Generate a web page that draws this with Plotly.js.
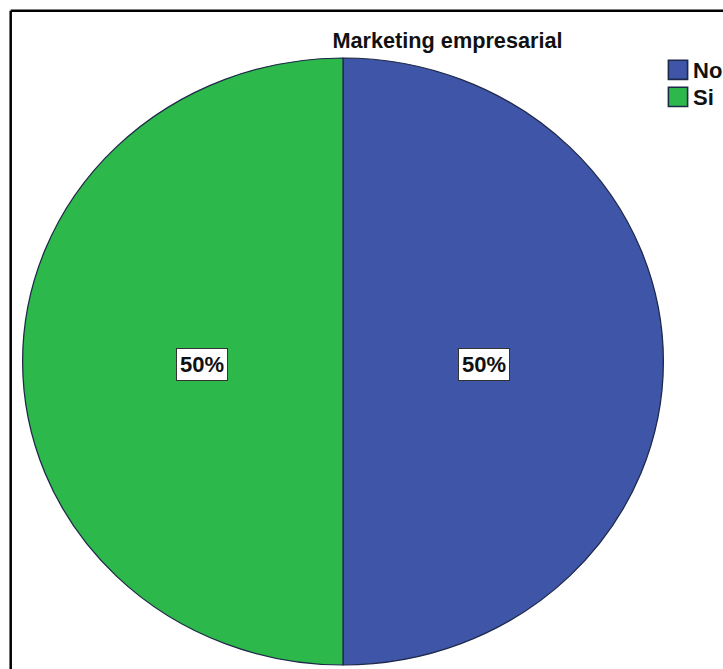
<!DOCTYPE html>
<html>
<head>
<meta charset="utf-8">
<script src="https://cdn.plot.ly/plotly-3.0.1.min.js"></script>
<style>
html,body{margin:0;padding:0;background:#fff;overflow:hidden;}
#chart{width:723px;height:669px;}
</style>
</head>
<body>
<div id="chart"></div>
<script>
// ---- data ----
const categories = ["No", "Si"];
const values = [50, 50];
const colors = ["#3E55A8", "#2DB84B"];
const chartTitle = "Marketing empresarial";

// ---- layout constants ----
const W = 723, H = 669;
const cx = 343, cy = 361.5, ry = 303.5, rx = 320.5;
const font = "Arial, 'Liberation Sans', sans-serif";

const total = values.reduce((a, b) => a + b, 0);

const trace = {
  type: "pie",
  labels: categories,
  values: values,
  sort: false,
  direction: "clockwise",
  rotation: 0,
  textinfo: "none",
  hoverinfo: "label+percent",
  marker: { colors: colors, line: { color: "#1e2848", width: 1.2 } },
  domain: { x: [(cx - ry) / W, (cx + ry) / W], y: [1 - (cy + ry) / H, 1 - (cy - ry) / H] }
};

// percentage label boxes placed at slice mid-angles
const annotations = [];
let cum = 0;
values.forEach((v, i) => {
  const mid = (cum + v / 2) / total * 2 * Math.PI; // clockwise from 12 o'clock
  cum += v;
  const px = cx + 0.44 * rx * Math.sin(mid);
  const py = cy + 3 - 0.44 * ry * Math.cos(mid);
  annotations.push({
    xref: "paper", yref: "paper",
    x: px / W, y: 1 - py / H,
    xanchor: "center", yanchor: "middle",
    showarrow: false,
    text: Math.round(v / total * 100) + "%",
    font: { family: font, size: 22, color: "#111", weight: "bold" },
    bgcolor: "#ffffff",
    bordercolor: "#333333",
    borderwidth: 1,
    borderpad: 3
  });
});

const layout = {
  width: W, height: H,
  margin: { l: 0, r: 0, t: 0, b: 0, autoexpand: false },
  paper_bgcolor: "#ffffff",
  title: {
    text: chartTitle,
    x: 447.5 / W, xanchor: "center",
    y: 1 - 40 / H, yanchor: "middle",
    font: { family: font, size: 21.7, color: "#111", weight: "bold" }
  },
  showlegend: true,
  legend: {
    x: 653 / W, xanchor: "left",
    y: 1 - 49 / H, yanchor: "top",
    font: { family: font, size: 22, color: "#111", weight: "bold" },
    bgcolor: "rgba(0,0,0,0)",
    tracegroupgap: 0
  },
  annotations: annotations,
  shapes: [
    { type: "line", xref: "paper", yref: "paper", x0: 10.7 / W, x1: 1, y0: 1 - 10.7 / H, y1: 1 - 10.7 / H, line: { color: "#000", width: 2.5 } },
    { type: "line", xref: "paper", yref: "paper", x0: 10.7 / W, x1: 10.7 / W, y0: 1 - 10.7 / H, y1: 0, line: { color: "#000", width: 2.5 } }
  ]
};

Plotly.newPlot("chart", [trace], layout, { displayModeBar: false, staticPlot: true }).then(() => {
  // stretch pie horizontally to match the slightly elliptical original
  const pl = document.querySelector(".pielayer");
  if (pl) {
    const s = rx / ry;
    pl.setAttribute("transform", `translate(${cx},0) scale(${s},1) translate(${-cx},0)`);
  }
  // enlarge legend swatches
  document.querySelectorAll(".legendpoints path").forEach(p => {
    const t = p.getAttribute("transform") || "";
    p.setAttribute("transform", "translate(5,0) " + t + " scale(1.6,1.6)");
    p.style.strokeWidth = "1px";
  });
  // tighten legend item spacing
  document.querySelectorAll(".legend .traces").forEach((g, i) => {
    const t = g.getAttribute("transform") || "";
    g.setAttribute("transform", `translate(0,${-4.5 * i}) ` + t);
  });
  // avoid clipping of legend text
  document.querySelectorAll(".legend .scrollbox, .legend").forEach(g => g.removeAttribute("clip-path"));
});
</script>
</body>
</html>
